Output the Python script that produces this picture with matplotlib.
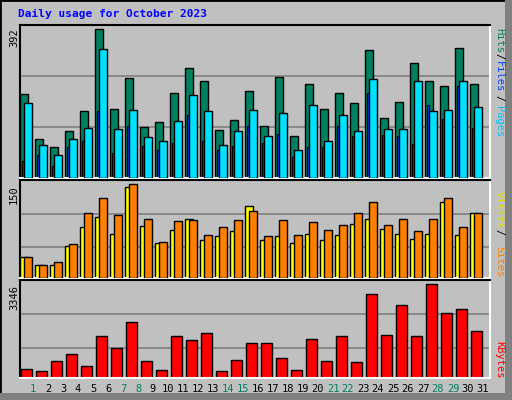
import matplotlib
matplotlib.use("Agg")
import matplotlib.pyplot as plt
from matplotlib.patches import Rectangle
import numpy as np

days = list(range(1, 32))
hits = [214,99,79,120,171,381,176,255,130,143,219,281,248,122,148,222,132,258,107,240,178,219,191,327,155,194,294,248,235,332,240]
files = [191,84,58,99,127,330,125,173,104,96,145,212,171,84,120,173,107,166,73,186,96,161,120,253,125,125,248,171,173,248,181]
pages = [43,58,32,79,96,171,63,132,81,73,89,161,96,73,81,132,89,114,53,79,79,132,107,217,109,107,86,186,150,235,127]
sites = [32,20,20,49,78,94,67,139,80,53,74,91,58,64,72,110,58,64,53,67,58,66,83,91,75,67,60,67,117,66,99]
visits = [32,20,24,52,100,122,97,144,91,55,88,89,66,78,89,102,64,89,66,85,74,81,99,116,81,91,72,91,122,78,100]
kbytes = [303,233,583,828,408,1422,1038,1912,583,268,1422,1282,1527,233,618,1178,1212,688,268,1317,583,1422,548,2856,1457,2507,1422,3206,2227,2367,1597]
weekend = [1,7,8,14,15,21,22,28,29]

W, H = 512, 400
fig = plt.figure(figsize=(W/100, H/100), dpi=100)
fig.patch.set_facecolor("#C0C0C0")
mono = "DejaVu Sans Mono"

fig.add_artist(Rectangle((0, 0), 1, 1, transform=fig.transFigure, fill=False, edgecolor="black", lw=2))
fig.add_artist(Rectangle((505/W, 0), 7/W, 1, transform=fig.transFigure, color="#808080", lw=0))
fig.add_artist(Rectangle((0, 0), 1, 7/H, transform=fig.transFigure, color="#808080", lw=0))

def ax_at(x0, y0, x1, y1):
    return fig.add_axes([x0/W, 1-y1/H, (x1-x0)/W, (y1-y0)/H])

xl = ((20-16)/15, (490-16)/15)
x = np.array(days)

def style(ax, top, grids):
    ax.set_facecolor("#C0C0C0")
    ax.set_xlim(*xl)
    ax.set_ylim(0, top)
    for g in grids:
        ax.axhline(g, color="#808080", lw=1.2, zorder=0)
    ax.set_xticks([]); ax.set_yticks([])
    for s in ax.spines.values():
        s.set_linewidth(1.5)
    ax.spines["left"].set_color("black"); ax.spines["top"].set_color("black")
    ax.spines["right"].set_color("white"); ax.spines["bottom"].set_color("white")

a1 = ax_at(20, 25, 490, 178)
style(a1, 392, [130.7, 261.3])
a1.bar(x-0.465, hits, 0.49, color="#008060", edgecolor="black", lw=1, zorder=2)
a1.bar(x-0.2, files, 0.49, color="#00E0FF", edgecolor="black", lw=1, zorder=3)
a1.bar(x-0.515, pages, 0.13, color="#0040FF", edgecolor="black", lw=0.8, zorder=2.5)

a2 = ax_at(20, 180, 490, 278)
style(a2, 150, [47.2, 98.6])
a2.bar(x-0.465, sites, 0.49, color="#FFFF00", edgecolor="black", lw=1, zorder=2)
a2.bar(x-0.2, visits, 0.49, color="#FF8000", edgecolor="black", lw=1, zorder=3)

a3 = ax_at(20, 280, 490, 378)
style(a3, 3346, [1038, 2192])
a3.bar(x-0.3, kbytes, 0.7, color="#FF0000", edgecolor="black", lw=1, zorder=2)

for d in days:
    fig.text((16+15*d+2)/W, 1-389/H, str(d), ha="center", va="center", family=mono, fontsize=7.5,
             color="#008060" if d in weekend else "black")

fig.text(18/W, 1-14/H, "Daily usage for October 2023", family=mono, fontsize=8, fontweight="bold",
         color="#0000FF", va="center", ha="left")
for t, y in [("392", 38), ("150", 195), ("3346", 297)]:
    fig.text(14/W, 1-y/H, t, rotation=90, family=mono, fontsize=7.5, ha="center", va="center")

def rlab(t, y, c):
    fig.text(499/W, 1-y/H, t, rotation=-90, family=mono, fontsize=7.5, color=c, ha="center", va="center")
rlab("Hits", 40, "#008060"); rlab("/", 56, "black"); rlab("Files", 77, "#0040FF")
rlab("/", 98, "black"); rlab("Pages", 122, "#00C0FF")
rlab("Visits", 210, "#E0E000"); rlab("/", 232, "black"); rlab("Sites", 262, "#FF8000")
rlab("KBytes", 360, "#FF0000")

fig.savefig("out.png", dpi=100, facecolor=fig.get_facecolor())
